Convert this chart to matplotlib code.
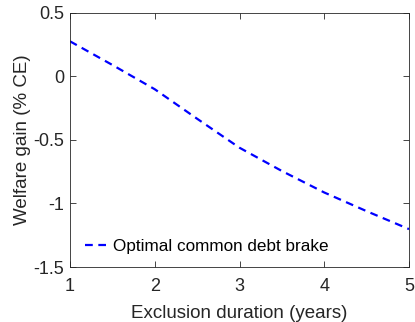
import numpy as np
import matplotlib
matplotlib.use('Agg')
from matplotlib import pyplot as plt

# exclusion duration (years) and welfare gain (% CE)
duration = [1.0, 1.5, 2.0, 2.5, 3.0, 3.5, 4.0, 4.5, 5.0]
welfare_gain = [0.275, 0.089, -0.102, -0.334, -0.562, -0.745, -0.914, -1.061, -1.202]

plt.rcParams['font.family'] = ['Liberation Sans', 'DejaVu Sans']
gray = '#262626'

fig = plt.figure(figsize=(4.15, 3.22), dpi=100)
ax = fig.add_axes([70/415, 1-267/322, 339/415, (267-12.7)/322])

ax.plot(duration, welfare_gain, '--', color='#0000ff', linewidth=1.6,
        dashes=(3.5, 2.5), label='Optimal common debt brake')

ax.set_xlim(1, 5)
ax.set_ylim(-1.5, 0.5)
ax.set_xticks([1, 2, 3, 4, 5])
ax.set_xticklabels(['1', '2', '3', '4', '5'])
ax.set_yticks([-1.5, -1, -0.5, 0, 0.5])
ax.set_yticklabels(['-1.5', '-1', '-0.5', '0', '0.5'])
ax.tick_params(direction='in', top=True, right=True, length=4, width=0.6,
               colors=gray, labelsize=13)
ax.tick_params(axis='x', pad=8)
ax.tick_params(axis='y', pad=4)
for s in ax.spines.values():
    s.set_color(gray)
    s.set_linewidth(0.6)

ax.set_xlabel('Exclusion duration (years)', fontsize=13.5, color=gray, labelpad=7)
ax.set_ylabel('Welfare gain (% CE)', fontsize=13.5, color=gray, labelpad=2)

leg = ax.legend(loc='lower left', frameon=False, fontsize=12.3, handlelength=1.2,
                handletextpad=0.4, borderaxespad=0.5, bbox_to_anchor=(0.0, -0.01))
for t in leg.get_texts():
    t.set_color('black')

plt.savefig('out.png', dpi=100)
plt.close()
